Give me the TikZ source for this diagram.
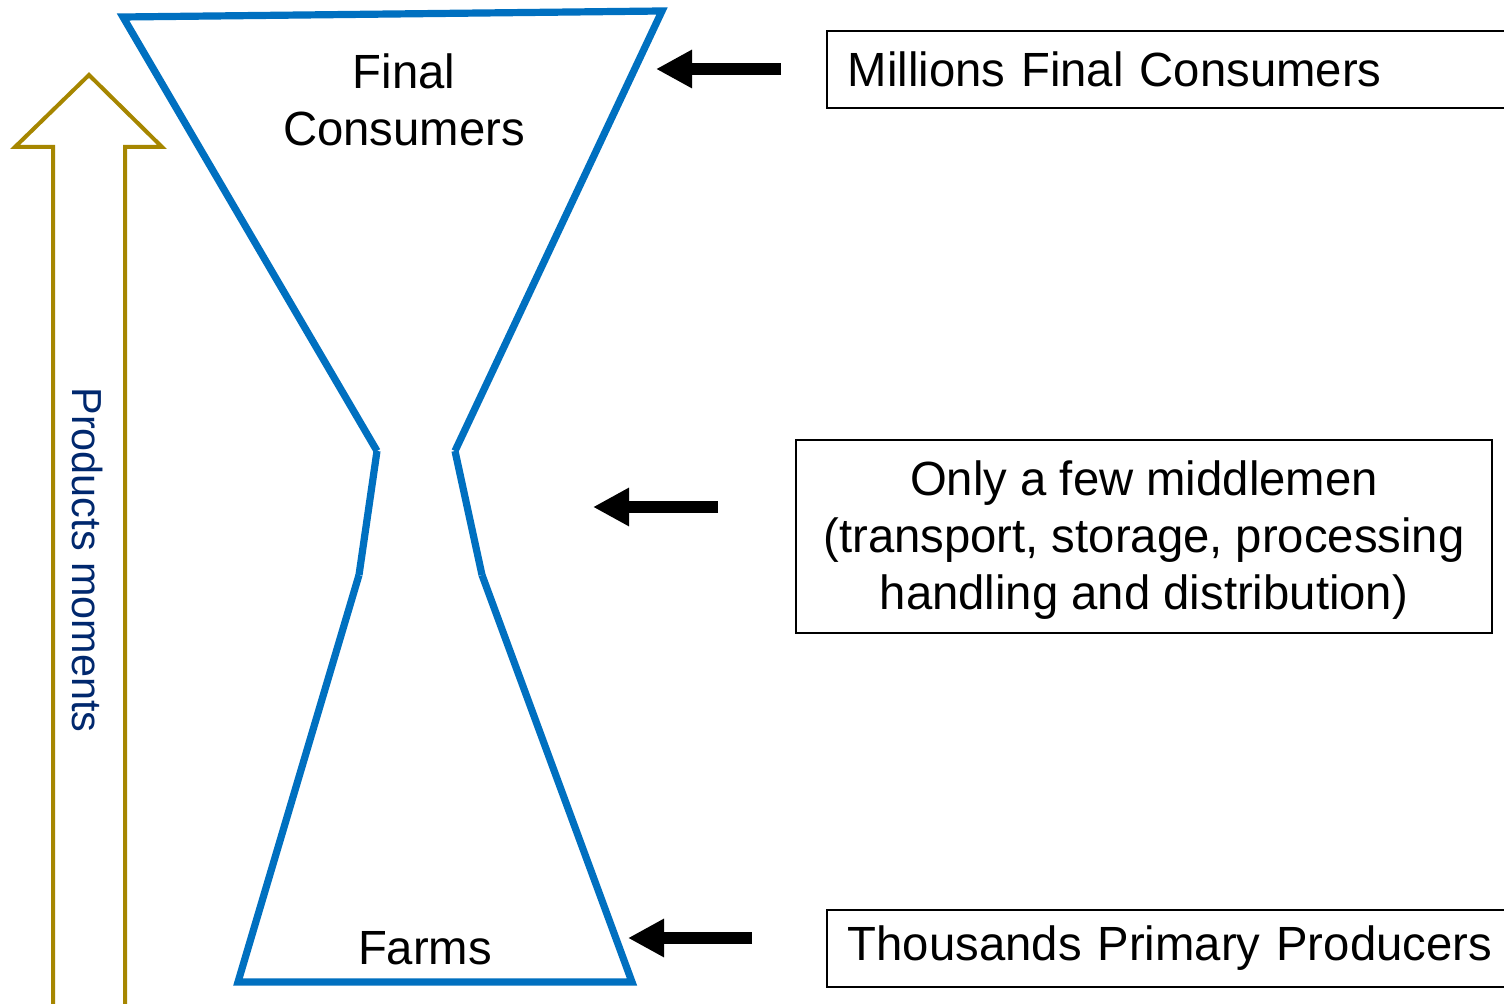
\documentclass[tikz,border=0pt]{standalone}
\usepackage{fontspec}
\setmainfont[FakeStretch=0.985]{Liberation Sans}
\usepackage{tikz}
\usetikzlibrary{arrows.meta}
\definecolor{funnelblue}{RGB}{0,112,192}
\definecolor{flowgold}{RGB}{166,134,0}
\definecolor{flownavy}{RGB}{0,40,110}
\tikzset{
  funnel/.style={draw=funnelblue, line width=3.6pt, line join=miter},
  bigarrow/.style={line width=6pt, -{Triangle[length=18pt,width=18pt]}},
  infobox/.style={draw, line width=0.75pt, inner xsep=10.5pt, minimum height=38.5pt},
}

\begin{document}
\begin{tikzpicture}[x=0.5pt, y=-0.5pt, font=\fontsize{24}{28.5}\selectfont]
      \clip (0,0) rectangle (1504,1004);
      \fill[white] (0,0) rectangle (1504,1004);
      \draw[draw=flowgold, line width=2pt] (53,1020) -- (53,147) -- (15,147) -- (89,75) -- (162,147) -- (125,147) -- (125,1020);
      \node[text=flownavy, rotate=-90, font=\fontsize{21}{25}\selectfont] at (88, 560) (PM) {Products moments};
      \draw[funnel] (377,451) -- (123,17) -- (662,11) -- (455,451);
      \draw[funnel] (377,451) -- (359,575);
      \draw[funnel] (455,451) -- (482,575);
      \draw[funnel] (359,575) -- (238,982) -- (632,982) -- (482,575);
      \node[align=center] at (404, 100) (FC) {Final\\Consumers};
      \node at (425, 948) (F) {Farms};
      \node[infobox, anchor=west, text width=672*0.5pt, align=left] at (826, 69.5) (MFC) {Millions Final Consumers};
      \node[infobox, minimum width=348pt, minimum height=96.5pt] at (1144, 536.5) (MID) {};
      \node[align=center] at (1144, 540) (MIDtext) {Only a few middlemen\\(transport, storage, processing\\handling and distribution)};
      \node[infobox, anchor=west, text width=672*0.5pt, align=left] at (826, 948.5) (TPP) {Thousands Primary Producers};
      \coordinate (topfrom) at (781, 69);
      \coordinate (topto) at (656, 69);
      \coordinate (midfrom) at (718, 507);
      \coordinate (midto) at (593, 507);
      \coordinate (lowfrom) at (752, 938);
      \coordinate (lowto) at (628, 938);
      \draw[bigarrow] (topfrom) -- (topto);
      \draw[bigarrow] (midfrom) -- (midto);
      \draw[bigarrow] (lowfrom) -- (lowto);
    \end{tikzpicture}
\end{document}
